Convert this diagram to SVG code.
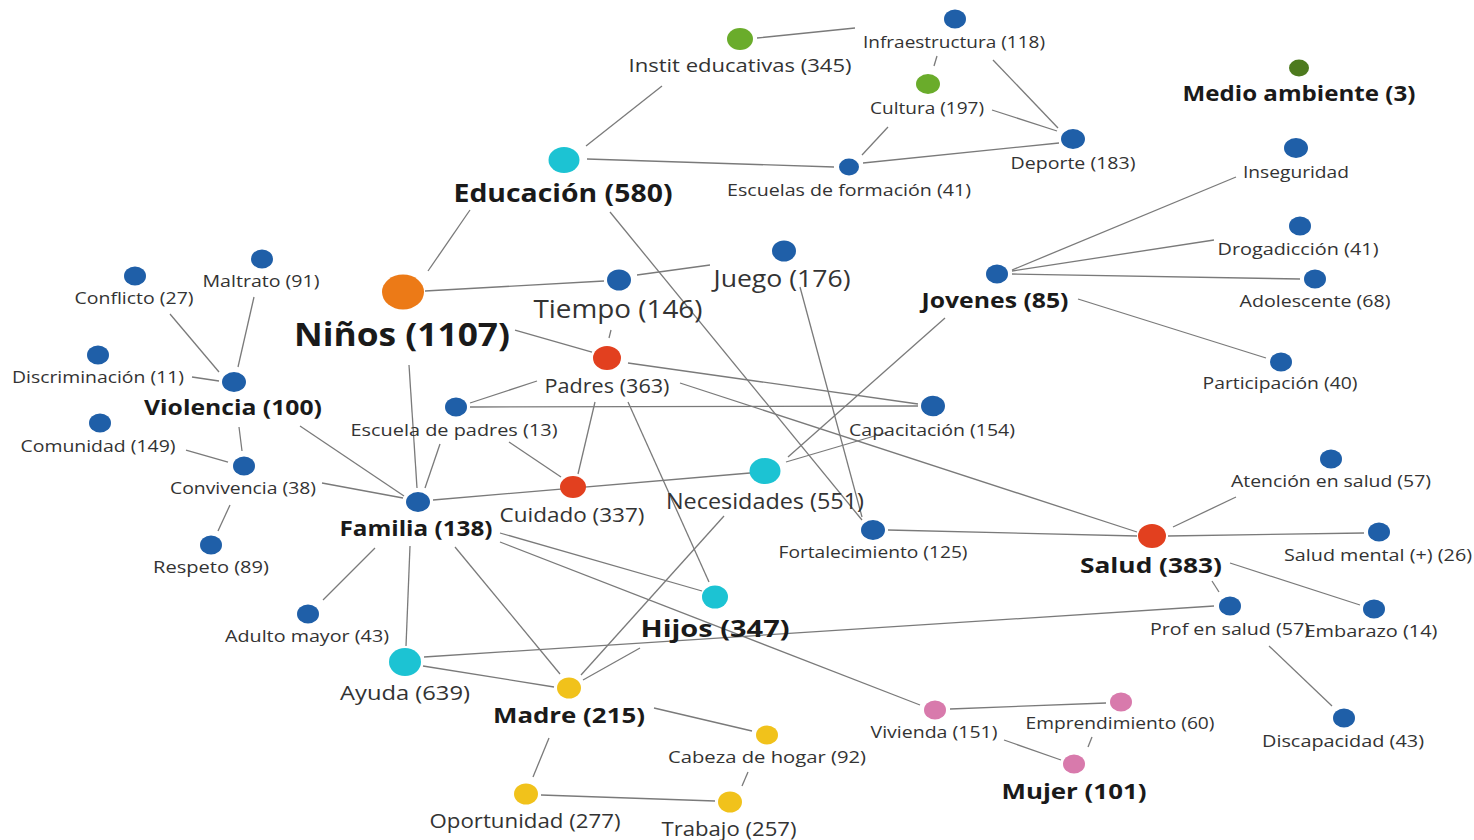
<svg xmlns="http://www.w3.org/2000/svg" width="1474" height="840" viewBox="0 0 1474 840">
<style>
.e line{stroke:#7a7a7a;stroke-width:1.3;fill:none}
text{font-family:"Open Sans","Noto Sans","Liberation Sans",sans-serif;fill:#333;text-anchor:middle}
.b{font-weight:bold;fill:#1a1a1a}
.s{font-size:17px}
.blue{fill:#1f5fa8}.org{fill:#ec7a17}.red{fill:#e2401f}.cyan{fill:#1cc3d3}.grn{fill:#6aac2b}.dgrn{fill:#4d7a1e}.yel{fill:#f1c21b}.pink{fill:#d87aac}
</style>
<rect width="1474" height="840" fill="#fff"/>
<g class="e" id="edges">
<line x1="757" y1="38" x2="855" y2="28"/>
<line x1="662" y1="86" x2="586" y2="146"/>
<line x1="937" y1="56" x2="934" y2="66"/>
<line x1="993" y1="60" x2="1058" y2="128"/>
<line x1="992" y1="110" x2="1057" y2="131"/>
<line x1="888" y1="127" x2="862" y2="155"/>
<line x1="863" y1="163" x2="1059" y2="143"/>
<line x1="587" y1="159" x2="834" y2="167"/>
<line x1="470" y1="210" x2="428" y2="271"/>
<line x1="610" y1="212" x2="862" y2="520"/>
<line x1="425" y1="291" x2="604" y2="281"/>
<line x1="637" y1="275" x2="710" y2="265"/>
<line x1="611" y1="330" x2="609" y2="338"/>
<line x1="515" y1="330" x2="592" y2="352"/>
<line x1="409" y1="365" x2="417" y2="488"/>
<line x1="628" y1="363" x2="918" y2="404"/>
<line x1="537" y1="381" x2="470" y2="403"/>
<line x1="470" y1="407" x2="918" y2="406"/>
<line x1="680" y1="383" x2="1137" y2="532"/>
<line x1="595" y1="402" x2="578" y2="474"/>
<line x1="628" y1="402" x2="709" y2="582"/>
<line x1="509" y1="442" x2="561" y2="477"/>
<line x1="440" y1="444" x2="425" y2="488"/>
<line x1="300" y1="426" x2="404" y2="496"/>
<line x1="322" y1="483" x2="403" y2="498"/>
<line x1="433" y1="500" x2="750" y2="473"/>
<line x1="788" y1="457" x2="945" y2="318"/>
<line x1="786" y1="462" x2="888" y2="432"/>
<line x1="800" y1="287" x2="862" y2="517"/>
<line x1="724" y1="516" x2="581" y2="675"/>
<line x1="583" y1="680" x2="640" y2="648"/>
<line x1="500" y1="533" x2="702" y2="591"/>
<line x1="500" y1="542" x2="920" y2="705"/>
<line x1="455" y1="547" x2="560" y2="674"/>
<line x1="410" y1="546" x2="406" y2="646"/>
<line x1="375" y1="548" x2="323" y2="600"/>
<line x1="423" y1="666" x2="554" y2="687"/>
<line x1="424" y1="657" x2="1214" y2="606"/>
<line x1="654" y1="708" x2="752" y2="731"/>
<line x1="549" y1="738" x2="533" y2="777"/>
<line x1="541" y1="795" x2="715" y2="801"/>
<line x1="748" y1="772" x2="742" y2="786"/>
<line x1="950" y1="709" x2="1106" y2="703"/>
<line x1="1004" y1="740" x2="1061" y2="760"/>
<line x1="1092" y1="737" x2="1088" y2="747"/>
<line x1="888" y1="530" x2="1137" y2="536"/>
<line x1="1173" y1="527" x2="1236" y2="497"/>
<line x1="1168" y1="536" x2="1364" y2="533"/>
<line x1="1230" y1="563" x2="1360" y2="605"/>
<line x1="1212" y1="581" x2="1219" y2="592"/>
<line x1="1269" y1="646" x2="1332" y2="706"/>
<line x1="1012" y1="270" x2="1236" y2="177"/>
<line x1="1012" y1="271" x2="1214" y2="240"/>
<line x1="1012" y1="274" x2="1300" y2="279"/>
<line x1="1078" y1="299" x2="1266" y2="358"/>
<line x1="238" y1="367" x2="254" y2="297"/>
<line x1="219" y1="372" x2="170" y2="314"/>
<line x1="192" y1="377" x2="219" y2="381"/>
<line x1="239" y1="427" x2="242" y2="451"/>
<line x1="186" y1="450" x2="228" y2="462"/>
<line x1="230" y1="505" x2="218" y2="531"/>
</g>
<g id="n-instit"><ellipse class="grn" cx="740" cy="39" rx="13" ry="11"/><text x="740" y="72" font-size="18.5" textLength="223" lengthAdjust="spacingAndGlyphs">Instit educativas (345)</text></g>
<g id="n-infra"><ellipse class="blue" cx="955" cy="19" rx="11" ry="9.5"/><text x="954" y="48" class="s" textLength="182" lengthAdjust="spacingAndGlyphs">Infraestructura (118)</text></g>
<g id="n-cultura"><ellipse class="grn" cx="928" cy="84" rx="12" ry="10"/><text x="927" y="114" class="s" textLength="114" lengthAdjust="spacingAndGlyphs">Cultura (197)</text></g>
<g id="n-deporte"><ellipse class="blue" cx="1073" cy="139" rx="12" ry="10"/><text x="1073" y="169" class="s" textLength="125" lengthAdjust="spacingAndGlyphs">Deporte (183)</text></g>
<g id="n-escform"><ellipse class="blue" cx="849" cy="167" rx="10" ry="8.5"/><text x="849" y="196" class="s" textLength="244" lengthAdjust="spacingAndGlyphs">Escuelas de formación (41)</text></g>
<g id="n-educacion"><ellipse class="cyan" cx="564" cy="160" rx="15.5" ry="13"/><text x="563" y="202" class="b" font-size="25" textLength="219" lengthAdjust="spacingAndGlyphs">Educación (580)</text></g>
<g id="n-medio"><ellipse class="dgrn" cx="1299" cy="68" rx="10" ry="8.5"/><text x="1299" y="101" class="b" font-size="21.5" textLength="233" lengthAdjust="spacingAndGlyphs">Medio ambiente (3)</text></g>
<g id="n-inseg"><ellipse class="blue" cx="1296" cy="148" rx="12" ry="10"/><text x="1296" y="178" class="s" textLength="106" lengthAdjust="spacingAndGlyphs">Inseguridad</text></g>
<g id="n-droga"><ellipse class="blue" cx="1300" cy="226" rx="11" ry="9.5"/><text x="1298" y="255" class="s" textLength="161" lengthAdjust="spacingAndGlyphs">Drogadicción (41)</text></g>
<g id="n-adol"><ellipse class="blue" cx="1315" cy="279" rx="11" ry="9.5"/><text x="1315" y="307" class="s" textLength="151" lengthAdjust="spacingAndGlyphs">Adolescente (68)</text></g>
<g id="n-partic"><ellipse class="blue" cx="1281" cy="362" rx="11" ry="9.5"/><text x="1280" y="389" class="s" textLength="155" lengthAdjust="spacingAndGlyphs">Participación (40)</text></g>
<g id="n-jovenes"><ellipse class="blue" cx="997" cy="274" rx="11" ry="9.5"/><text x="995" y="308" class="b" font-size="20.5" textLength="147" lengthAdjust="spacingAndGlyphs">Jovenes (85)</text></g>
<g id="n-juego"><ellipse class="blue" cx="784" cy="251" rx="12" ry="10.5"/><text x="782" y="287" font-size="23.5" textLength="137" lengthAdjust="spacingAndGlyphs">Juego (176)</text></g>
<g id="n-tiempo"><ellipse class="blue" cx="619" cy="280" rx="12" ry="10.5"/><text x="618" y="318" font-size="25" textLength="169" lengthAdjust="spacingAndGlyphs">Tiempo (146)</text></g>
<g id="n-ninos"><ellipse class="org" cx="403" cy="292" rx="21" ry="17.5"/><text x="402" y="346" class="b" font-size="32" textLength="216" lengthAdjust="spacingAndGlyphs">Niños (1107)</text></g>
<g id="n-padres"><ellipse class="red" cx="607" cy="358" rx="14" ry="12"/><text x="607" y="393" font-size="19.5" textLength="125" lengthAdjust="spacingAndGlyphs">Padres (363)</text></g>
<g id="n-escpadres"><ellipse class="blue" cx="456" cy="407" rx="11" ry="9.5"/><text x="454" y="436" class="s" textLength="207" lengthAdjust="spacingAndGlyphs">Escuela de padres (13)</text></g>
<g id="n-capac"><ellipse class="blue" cx="933" cy="406" rx="12" ry="10.3"/><text x="932" y="436" class="s" textLength="166" lengthAdjust="spacingAndGlyphs">Capacitación (154)</text></g>
<g id="n-cuidado"><ellipse class="red" cx="573" cy="487" rx="13" ry="11"/><text x="572" y="522" font-size="20.5" textLength="145" lengthAdjust="spacingAndGlyphs">Cuidado (337)</text></g>
<g id="n-neces"><ellipse class="cyan" cx="765" cy="471" rx="15.5" ry="13"/><text x="765" y="509" font-size="21.5" textLength="198" lengthAdjust="spacingAndGlyphs">Necesidades (551)</text></g>
<g id="n-fortal"><ellipse class="blue" cx="873" cy="530" rx="12" ry="10"/><text x="873" y="558" class="s" textLength="189" lengthAdjust="spacingAndGlyphs">Fortalecimiento (125)</text></g>
<g id="n-salud"><ellipse class="red" cx="1152" cy="536" rx="14" ry="12"/><text x="1151" y="573" class="b" font-size="21.5" textLength="142" lengthAdjust="spacingAndGlyphs">Salud (383)</text></g>
<g id="n-atencion"><ellipse class="blue" cx="1331" cy="459" rx="11" ry="9.5"/><text x="1331" y="487" class="s" textLength="200" lengthAdjust="spacingAndGlyphs">Atención en salud (57)</text></g>
<g id="n-mental"><ellipse class="blue" cx="1379" cy="532" rx="11" ry="9.5"/><text x="1378" y="561" class="s" textLength="188" lengthAdjust="spacingAndGlyphs">Salud mental (+) (26)</text></g>
<g id="n-embarazo"><ellipse class="blue" cx="1374" cy="609" rx="11" ry="9.5"/><text x="1371" y="637" class="s" textLength="133" lengthAdjust="spacingAndGlyphs">Embarazo (14)</text></g>
<g id="n-prof"><ellipse class="blue" cx="1230" cy="606" rx="11" ry="9.5"/><text x="1230" y="635" class="s" textLength="160" lengthAdjust="spacingAndGlyphs">Prof en salud (57)</text></g>
<g id="n-discap"><ellipse class="blue" cx="1344" cy="718" rx="11" ry="9.5"/><text x="1343" y="747" class="s" textLength="162" lengthAdjust="spacingAndGlyphs">Discapacidad (43)</text></g>
<g id="n-hijos"><ellipse class="cyan" cx="715" cy="597" rx="13" ry="11.5"/><text x="715" y="637" class="b" font-size="24" textLength="149" lengthAdjust="spacingAndGlyphs">Hijos (347)</text></g>
<g id="n-familia"><ellipse class="blue" cx="418" cy="502" rx="12" ry="10"/><text x="416" y="536" class="b" font-size="20.5" textLength="153" lengthAdjust="spacingAndGlyphs">Familia (138)</text></g>
<g id="n-violencia"><ellipse class="blue" cx="234" cy="382" rx="12" ry="10"/><text x="233" y="415" class="b" font-size="20.5" textLength="178" lengthAdjust="spacingAndGlyphs">Violencia (100)</text></g>
<g id="n-maltrato"><ellipse class="blue" cx="262" cy="259" rx="11" ry="9.5"/><text x="261" y="287" class="s" textLength="117" lengthAdjust="spacingAndGlyphs">Maltrato (91)</text></g>
<g id="n-conflicto"><ellipse class="blue" cx="135" cy="276" rx="11" ry="9.5"/><text x="134" y="304" class="s" textLength="119" lengthAdjust="spacingAndGlyphs">Conflicto (27)</text></g>
<g id="n-discrim"><ellipse class="blue" cx="98" cy="355" rx="11" ry="9.5"/><text x="98" y="383" class="s" textLength="172" lengthAdjust="spacingAndGlyphs">Discriminación (11)</text></g>
<g id="n-comunidad"><ellipse class="blue" cx="100" cy="423" rx="11" ry="9.5"/><text x="98" y="452" class="s" textLength="155" lengthAdjust="spacingAndGlyphs">Comunidad (149)</text></g>
<g id="n-conviv"><ellipse class="blue" cx="244" cy="466" rx="11" ry="9.5"/><text x="243" y="494" class="s" textLength="146" lengthAdjust="spacingAndGlyphs">Convivencia (38)</text></g>
<g id="n-respeto"><ellipse class="blue" cx="211" cy="545" rx="11" ry="9.5"/><text x="211" y="573" class="s" textLength="116" lengthAdjust="spacingAndGlyphs">Respeto (89)</text></g>
<g id="n-adulto"><ellipse class="blue" cx="308" cy="614" rx="11" ry="9.5"/><text x="307" y="642" class="s" textLength="164" lengthAdjust="spacingAndGlyphs">Adulto mayor (43)</text></g>
<g id="n-ayuda"><ellipse class="cyan" cx="405" cy="662" rx="16" ry="14"/><text x="405" y="700" font-size="20.5" textLength="130" lengthAdjust="spacingAndGlyphs">Ayuda (639)</text></g>
<g id="n-madre"><ellipse class="yel" cx="569" cy="688" rx="12" ry="10.5"/><text x="569" y="723" class="b" font-size="21.5" textLength="152" lengthAdjust="spacingAndGlyphs">Madre (215)</text></g>
<g id="n-cabeza"><ellipse class="yel" cx="767" cy="735" rx="11" ry="9.5"/><text x="767" y="763" class="s" textLength="198" lengthAdjust="spacingAndGlyphs">Cabeza de hogar (92)</text></g>
<g id="n-oport"><ellipse class="yel" cx="526" cy="794" rx="12" ry="10.5"/><text x="525" y="828" font-size="19.5" textLength="191" lengthAdjust="spacingAndGlyphs">Oportunidad (277)</text></g>
<g id="n-trabajo"><ellipse class="yel" cx="730" cy="802" rx="12" ry="10.5"/><text x="729" y="836" font-size="19.5" textLength="135" lengthAdjust="spacingAndGlyphs">Trabajo (257)</text></g>
<g id="n-vivienda"><ellipse class="pink" cx="935" cy="710" rx="11" ry="9.5"/><text x="934" y="738" class="s" textLength="127" lengthAdjust="spacingAndGlyphs">Vivienda (151)</text></g>
<g id="n-empren"><ellipse class="pink" cx="1121" cy="702" rx="11" ry="9.5"/><text x="1120" y="729" class="s" textLength="189" lengthAdjust="spacingAndGlyphs">Emprendimiento (60)</text></g>
<g id="n-mujer"><ellipse class="pink" cx="1074" cy="764" rx="11" ry="9.5"/><text x="1074" y="799" class="b" font-size="21.5" textLength="145" lengthAdjust="spacingAndGlyphs">Mujer (101)</text></g>
</svg>
